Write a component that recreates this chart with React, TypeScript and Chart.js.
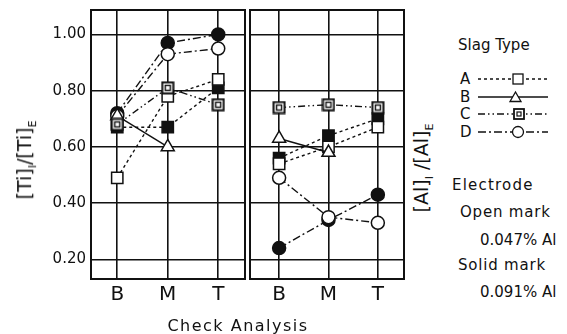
import React, { useEffect, useRef } from 'react';
import { Chart, registerables } from 'chart.js';
Chart.register(...registerables);

const categories = ['B', 'M', 'T'];
const yTicks = [0.2, 0.4, 0.6, 0.8, 1.0];

// Left panel: [Ti]I/[Ti]E
const tiA_open = [0.49, 0.78, 0.84];
const tiA_solid = [0.67, 0.67, 0.81];
const tiB_open = [0.71, 0.60, null];
const tiC_open = [0.68, 0.81, 0.75];
const tiD_open = [0.71, 0.93, 0.95];
const tiD_solid = [0.72, 0.97, 1.00];

// Right panel: [Al]I/[Al]E
const alA_open = [0.54, 0.60, 0.67];
const alA_solid = [0.56, 0.64, 0.70];
const alB_open = [0.63, 0.58, null];
const alC_open = [0.74, 0.75, 0.74];
const alD_open = [0.49, 0.35, 0.33];
const alD_solid = [0.24, 0.34, 0.43];

const FONT = '"DejaVu Sans", sans-serif';
const INK = '#111';

const DASH_A = [3, 3];
const DASH_B: number[] = [];
const DASH_C = [7, 3, 1.5, 3, 1.5, 3];
const DASH_D = [8, 3, 2, 3];

function makeDoubleSquare() {
  const c = document.createElement('canvas');
  c.width = 14;
  c.height = 14;
  const ctx = c.getContext('2d')!;
  ctx.fillStyle = '#fff';
  ctx.fillRect(1, 1, 12, 12);
  ctx.strokeStyle = INK;
  ctx.lineWidth = 2;
  ctx.strokeRect(1.5, 1.5, 11, 11);
  ctx.lineWidth = 1.4;
  ctx.strokeRect(4.5, 4.5, 5, 5);
  return c;
}

function ds(values: (number | null)[], pointStyle: any, radius: number, filled: boolean, dash: number[]) {
  return {
    data: values.map((v, i) => ({ x: i, y: v })),
    borderColor: INK,
    borderWidth: 1.4,
    borderDash: dash,
    pointStyle,
    pointRadius: radius,
    pointBorderWidth: 1.5,
    pointBorderColor: INK,
    pointBackgroundColor: filled ? INK : '#fff',
    showLine: true,
    fill: false,
    tension: 0,
  };
}

const framePlugin = {
  id: 'frame',
  afterDraw(chart: any) {
    const { ctx, chartArea } = chart;
    ctx.save();
    ctx.strokeStyle = INK;
    ctx.lineWidth = 2;
    ctx.strokeRect(chartArea.left, chartArea.top, chartArea.right - chartArea.left, chartArea.bottom - chartArea.top);
    ctx.restore();
  },
};

function noPad(s: any) {
  s.paddingLeft = 0;
  s.paddingRight = 0;
  s.paddingTop = 0;
  s.paddingBottom = 0;
}

function makeOptions(left: boolean): any {
  return {
    animation: false,
    responsive: false,
    maintainAspectRatio: false,
    events: [],
    layout: {
      autoPadding: false,
      padding: left ? { left: 0, top: 10, right: 2, bottom: 0 } : { left: 2, top: 10, right: 4, bottom: 0 },
    },
    plugins: { legend: { display: false }, tooltip: { enabled: false } },
    scales: {
      x: {
        type: 'linear',
        min: left ? -0.52 : -0.59,
        max: 2.53,
        afterBuildTicks: (s: any) => {
          s.ticks = categories.map((_, i) => ({ value: i }));
        },
        afterFit: (s: any) => {
          s.height = 55;
          noPad(s);
        },
        grid: { color: INK, lineWidth: 1.6, drawTicks: false },
        border: { display: false },
        ticks: {
          padding: 4,
          color: INK,
          autoSkip: false,
          maxRotation: 0,
          font: { family: FONT, size: 20 },
          callback: (v: any) => categories[v] ?? '',
        },
      },
      y: {
        type: 'linear',
        min: 0.13,
        max: 1.087,
        afterBuildTicks: (s: any) => {
          s.ticks = yTicks.map((v) => ({ value: v }));
        },
        afterFit: (s: any) => {
          s.width = left ? 91 : 0;
          noPad(s);
        },
        grid: { color: INK, lineWidth: 1.6, drawTicks: false },
        border: { display: false },
        ticks: {
          display: left,
          padding: 5,
          color: INK,
          font: { family: FONT, size: 15 },
          callback: (v: any) => Number(v).toFixed(2),
        },
      },
    },
  };
}

function buildDatasets(a: any[], aS: any[], b: any[], c: any[], d: any[], dS: any[], dbl: HTMLCanvasElement) {
  return [
    ds(c, dbl, 7, false, DASH_C),
    ds(b, 'triangle', 7.5, false, DASH_B),
    ds(a, 'rect', 8, false, DASH_A),
    ds(aS, 'rect', 8, true, DASH_A),
    ds(d, 'circle', 6.5, false, DASH_D),
    ds(dS, 'circle', 6.5, true, DASH_D),
  ];
}

function LegendRow({ letter, y, dash, marker }: { letter: string; y: number; dash: string; marker: React.ReactNode }) {
  return (
    <>
      <div style={{ position: 'absolute', left: 460, top: y - 10, fontSize: 15, lineHeight: '20px' }}>{letter}</div>
      <svg style={{ position: 'absolute', left: 476, top: y - 8 }} width={74} height={16}>
        <line x1={2} y1={8} x2={72} y2={8} stroke={INK} strokeWidth={1.3} strokeDasharray={dash} />
        {marker}
      </svg>
    </>
  );
}

export default function App() {
  const leftRef = useRef<HTMLCanvasElement>(null);
  const rightRef = useRef<HTMLCanvasElement>(null);

  useEffect(() => {
    const dbl = makeDoubleSquare();
    const left = new Chart(leftRef.current!, {
      type: 'scatter',
      data: { datasets: buildDatasets(tiA_open, tiA_solid, tiB_open, tiC_open, tiD_open, tiD_solid, dbl) as any },
      options: makeOptions(true),
      plugins: [framePlugin],
    });
    const right = new Chart(rightRef.current!, {
      type: 'scatter',
      data: { datasets: buildDatasets(alA_open, alA_solid, alB_open, alC_open, alD_open, alD_solid, dbl) as any },
      options: makeOptions(false),
      plugins: [framePlugin],
    });
    return () => {
      left.destroy();
      right.destroy();
    };
  }, []);

  const txt = (left: number, top: number, text: string, ls = 0, size = 15) => (
    <div style={{ position: 'absolute', left, top, fontSize: size, lineHeight: '20px', whiteSpace: 'nowrap', letterSpacing: ls }}>{text}</div>
  );

  return (
    <div
      style={{
        position: 'fixed',
        left: 0,
        top: 0,
        width: 567,
        height: 334,
        background: '#fff',
        fontFamily: FONT,
        color: INK,
        overflow: 'hidden',
      }}
    >
      <canvas ref={leftRef} width={247} height={334} style={{ position: 'absolute', left: 0, top: 0 }} />
      <canvas ref={rightRef} width={160} height={334} style={{ position: 'absolute', left: 248, top: 0 }} />

      <div
        style={{
          position: 'absolute',
          left: 26,
          top: 160,
          transform: 'translate(-50%, -50%) rotate(-90deg)',
          whiteSpace: 'nowrap',
          fontSize: 19,
        }}
      >
        [Ti]<sub style={{ fontSize: 11 }}>I</sub>/[Ti]<sub style={{ fontSize: 11 }}>E</sub>
      </div>
      <div
        style={{
          position: 'absolute',
          left: 423,
          top: 168,
          transform: 'translate(-50%, -50%) rotate(-90deg)',
          whiteSpace: 'nowrap',
          fontSize: 19,
        }}
      >
        [Al]<sub style={{ fontSize: 11 }}>I</sub> /[Al]<sub style={{ fontSize: 11 }}>E</sub>
      </div>

      <div style={{ position: 'absolute', left: 238, top: 325, transform: 'translate(-50%, -50%)', fontSize: 16, letterSpacing: 1.5, whiteSpace: 'nowrap' }}>
        Check Analysis
      </div>

      {txt(458, 35, 'Slag Type')}
      <LegendRow letter="A" y={79} dash="3 3" marker={<rect x={37} y={3} width={10} height={10} fill="#fff" stroke={INK} strokeWidth={1.3} />} />
      <LegendRow letter="B" y={97} dash="" marker={<polygon points="34,12.5 45,12.5 39.5,3" fill="#fff" stroke={INK} strokeWidth={1.3} />} />
      <LegendRow
        letter="C"
        y={114}
        dash="7 3 1.5 3 1.5 3"
        marker={
          <g>
            <rect x={38} y={3} width={10} height={10} fill="#fff" stroke={INK} strokeWidth={1.8} />
            <rect x={41} y={6} width={4} height={4} fill="#fff" stroke={INK} strokeWidth={1.2} />
          </g>
        }
      />
      <LegendRow letter="D" y={132} dash="8 3 2 3" marker={<circle cx={42} cy={8} r={5.5} fill="#fff" stroke={INK} strokeWidth={1.3} />} />

      {txt(452, 175, 'Electrode', 1.2)}
      {txt(460, 202, 'Open mark', 0.8)}
      {txt(480, 230, '0.047% Al', 0, 15)}
      {txt(458, 255, 'Solid mark', 0.8)}
      {txt(480, 282, '0.091% Al', 0, 15)}
    </div>
  );
}
